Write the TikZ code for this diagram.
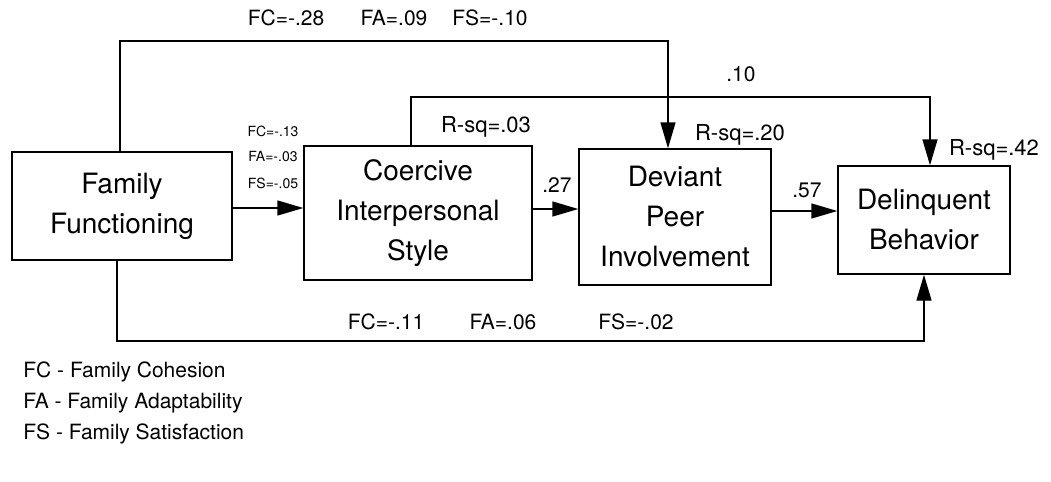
\documentclass[tikz,border=0pt]{standalone}
\usepackage{fontspec}
\setmainfont{TeX Gyre Heros}
\usetikzlibrary{positioning,arrows.meta}

\begin{document}
\begin{tikzpicture}[
  x=0.5pt,y=-0.5pt,
  >={Triangle[length=13pt,width=7.5pt]},
  box/.style   ={draw,line width=0.7pt,align=center,inner sep=0pt,font=\fontsize{14}{20}\selectfont},
  flow/.style  ={->,line width=0.7pt},
  coef/.style  ={inner sep=0pt,font=\fontsize{10.5}{12}\selectfont},
  coefsm/.style={inner sep=0pt,font=\fontsize{7}{8}\selectfont},
  rsq/.style   ={inner sep=0pt,font=\fontsize{11}{12}\selectfont},
  legend/.style={inner sep=0pt,anchor=west,font=\fontsize{10.5}{12}\selectfont},
]
\useasboundingbox (0,0) rectangle (1051,482);

% ---------------------------------------------------------------
% variables
% ---------------------------------------------------------------
\node[box,minimum width=110pt,minimum height=54pt] (family)     at (122,206) {Family\\Functioning};
\node[box,minimum width=114pt,minimum height=67pt] (coercive)   at (418,213) {Coercive\\Interpersonal\\Style};
\node[box,minimum width=96pt,minimum height=68pt]  (deviant)    at (675,217) {Deviant\\Peer\\Involvement};
\node[box,minimum width=86pt,minimum height=54pt]  (delinquent) at (924,220) {Delinquent\\Behavior};

% ---------------------------------------------------------------
% direct paths
% ---------------------------------------------------------------
\draw[flow] ([yshift=-1pt]family.east) -- ([yshift=-1pt]family.east -| coercive.west);
\draw[flow] ([yshift=2pt]coercive.east) -- ([yshift=2pt]coercive.east -| deviant.west);
\draw[flow] ([yshift=3pt]deviant.east) -- ([yshift=3pt]deviant.east -| delinquent.west);

% ---------------------------------------------------------------
% routed paths (top, middle, bottom)
% ---------------------------------------------------------------
\coordinate (topL) at (120,41);
\coordinate (topR) at (668,41);
\draw[flow] (topL |- family.north) -- (topL) -- (topR) -- (topR |- deviant.north);

\coordinate (midL) at (411,97);
\coordinate (midR) at (930,97);
\draw[flow] (midL |- coercive.north) -- (midL) -- (midR) -- (midR |- delinquent.north);

\coordinate (botL) at (117,341);
\coordinate (botR) at (924,341);
\draw[flow] (botL |- family.south) -- (botL) -- (botR) -- (botR |- delinquent.south);

% ---------------------------------------------------------------
% coefficients
% ---------------------------------------------------------------
\node[coef] (topFC) at (286,18) {FC=-.28};
\node[coef] (topFA) at (394,18) {FA=.09};
\node[coef] (topFS) at (490,18) {FS=-.10};

\node[coef] (midB) at (741,74) {.10};

\node[coefsm] (ciFC) at (273,131) {FC=-.13};
\node[coefsm] (ciFA) at (273,157) {FA=-.03};
\node[coefsm] (ciFS) at (273,183) {FS=-.05};

\node[coef] (cdB) at (557,185) {.27};
\node[coef] (ddB) at (807,190) {.57};

\node[coef] (botFC) at (386,322) {FC=-.11};
\node[coef] (botFA) at (503,322) {FA=.06};
\node[coef] (botFS) at (636,322) {FS=-.02};

\node[rsq] (rsqC) at (486,127) {R-sq=.03};
\node[rsq] (rsqD) at (740,135) {R-sq=.20};
\node[rsq] (rsqB) at (994,150) {R-sq=.42};

% ---------------------------------------------------------------
% legend
% ---------------------------------------------------------------
\node[legend] (legFC) at (23,372) {FC - Family Cohesion};
\node[legend] (legFA) at (23,403) {FA - Family Adaptability};
\node[legend] (legFS) at (23,434) {FS - Family Satisfaction};

\end{tikzpicture}
\end{document}
